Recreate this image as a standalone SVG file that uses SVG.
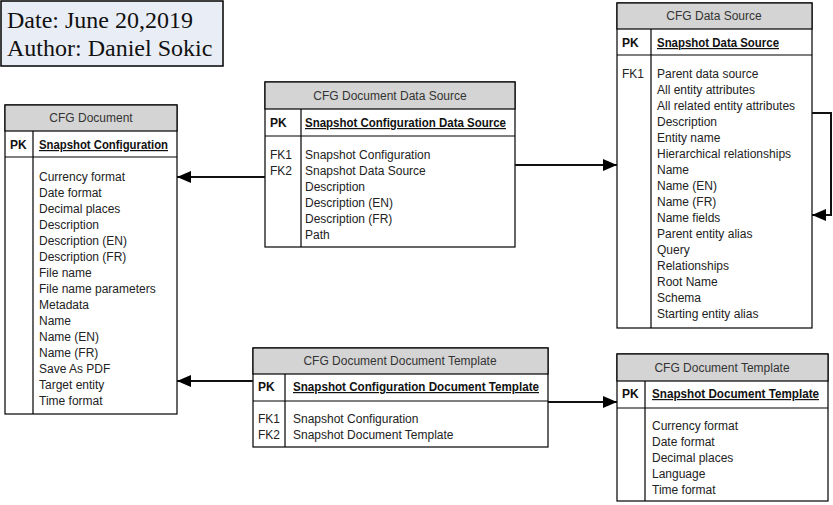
<svg xmlns="http://www.w3.org/2000/svg" width="833" height="505" viewBox="0 0 833 505">
<style>
.box{fill:#ffffff;stroke:#000;stroke-width:1.2}
.hdr{fill:#d4d4d4;stroke:#000;stroke-width:1.2}
.ln{stroke:#000;stroke-width:1.2;fill:none}
.t{font-family:"Liberation Sans",Arial,sans-serif;font-size:12px;fill:#222}
.h{font-family:"Liberation Sans",Arial,sans-serif;font-size:12px;fill:#333;text-anchor:middle}
.b{font-family:"Liberation Sans",Arial,sans-serif;font-size:12px;font-weight:bold;fill:#111}
.u{text-decoration:underline}
.conn{stroke:#111;stroke-width:2;fill:none}
.note{font-family:"Liberation Serif","Times New Roman",serif;font-size:24px;fill:#111}
</style>
<defs>
<marker id="arr" markerUnits="userSpaceOnUse" markerWidth="14" markerHeight="14" viewBox="0 0 14 14" refX="14" refY="7" orient="auto">
<path d="M0,1 L14,7 L0,13 Z" fill="#000"/>
</marker>
</defs>

<g id="note">
<rect x="1" y="1" width="222" height="65" fill="#e9edf5" stroke="#000" stroke-width="1.5"/>
<text class="note" x="7" y="28">Date: June 20,2019</text>
<text class="note" x="7" y="56">Author: Daniel Sokic</text>
</g>

<g id="cfg-document">
<rect class="box" x="5" y="105" width="172" height="309"/>
<rect class="hdr" x="5" y="105" width="172" height="26"/>
<line class="ln" x1="5" y1="157" x2="177" y2="157"/>
<line class="ln" x1="33" y1="131" x2="33" y2="414"/>
<text class="h" x="91" y="122">CFG Document</text>
<text class="b" x="10" y="149">PK</text>
<text class="b u" x="39" y="149" textLength="129" lengthAdjust="spacingAndGlyphs">Snapshot Configuration</text>
<text class="t" x="39" y="181">Currency format</text>
<text class="t" x="39" y="197">Date format</text>
<text class="t" x="39" y="213">Decimal places</text>
<text class="t" x="39" y="229">Description</text>
<text class="t" x="39" y="245">Description (EN)</text>
<text class="t" x="39" y="261">Description (FR)</text>
<text class="t" x="39" y="277">File name</text>
<text class="t" x="39" y="293">File name parameters</text>
<text class="t" x="39" y="309">Metadata</text>
<text class="t" x="39" y="325">Name</text>
<text class="t" x="39" y="341">Name (EN)</text>
<text class="t" x="39" y="357">Name (FR)</text>
<text class="t" x="39" y="373">Save As PDF</text>
<text class="t" x="39" y="389">Target entity</text>
<text class="t" x="39" y="405">Time format</text>
</g>

<g id="cfg-document-data-source">
<rect class="box" x="265" y="82" width="250" height="165"/>
<rect class="hdr" x="265" y="82" width="250" height="27"/>
<line class="ln" x1="265" y1="136" x2="515" y2="136"/>
<line class="ln" x1="301" y1="109" x2="301" y2="247"/>
<text class="h" x="390" y="100">CFG Document Data Source</text>
<text class="b" x="270" y="127">PK</text>
<text class="b u" x="305" y="127" textLength="201" lengthAdjust="spacingAndGlyphs">Snapshot Configuration Data Source</text>
<text class="t" x="270" y="159">FK1</text>
<text class="t" x="270" y="175">FK2</text>
<text class="t" x="305" y="159">Snapshot Configuration</text>
<text class="t" x="305" y="175">Snapshot Data Source</text>
<text class="t" x="305" y="191">Description</text>
<text class="t" x="305" y="207">Description (EN)</text>
<text class="t" x="305" y="223">Description (FR)</text>
<text class="t" x="305" y="239">Path</text>
</g>

<g id="cfg-data-source">
<rect class="box" x="617" y="3" width="195" height="325"/>
<rect class="hdr" x="617" y="3" width="195" height="26"/>
<line class="ln" x1="617" y1="55" x2="812" y2="55"/>
<line class="ln" x1="651" y1="29" x2="651" y2="328"/>
<text class="h" x="714" y="20">CFG Data Source</text>
<text class="b" x="622" y="47">PK</text>
<text class="b u" x="657" y="47" textLength="122" lengthAdjust="spacingAndGlyphs">Snapshot Data Source</text>
<text class="t" x="622" y="78">FK1</text>
<text class="t" x="657" y="78">Parent data source</text>
<text class="t" x="657" y="94">All entity attributes</text>
<text class="t" x="657" y="110">All related entity attributes</text>
<text class="t" x="657" y="126">Description</text>
<text class="t" x="657" y="142">Entity name</text>
<text class="t" x="657" y="158">Hierarchical relationships</text>
<text class="t" x="657" y="174">Name</text>
<text class="t" x="657" y="190">Name (EN)</text>
<text class="t" x="657" y="206">Name (FR)</text>
<text class="t" x="657" y="222">Name fields</text>
<text class="t" x="657" y="238">Parent entity alias</text>
<text class="t" x="657" y="254">Query</text>
<text class="t" x="657" y="270">Relationships</text>
<text class="t" x="657" y="286">Root Name</text>
<text class="t" x="657" y="302">Schema</text>
<text class="t" x="657" y="318">Starting entity alias</text>
</g>

<g id="cfg-document-document-template">
<rect class="box" x="253" y="348" width="295" height="99"/>
<rect class="hdr" x="253" y="348" width="295" height="26"/>
<line class="ln" x1="253" y1="401" x2="548" y2="401"/>
<line class="ln" x1="285" y1="374" x2="285" y2="447"/>
<text class="h" x="400" y="365">CFG Document Document Template</text>
<text class="b" x="258" y="391">PK</text>
<text class="b u" x="293" y="391" textLength="246" lengthAdjust="spacingAndGlyphs">Snapshot Configuration Document Template</text>
<text class="t" x="258" y="423">FK1</text>
<text class="t" x="258" y="439">FK2</text>
<text class="t" x="293" y="423">Snapshot Configuration</text>
<text class="t" x="293" y="439">Snapshot Document Template</text>
</g>

<g id="cfg-document-template">
<rect class="box" x="617" y="354" width="211" height="147"/>
<rect class="hdr" x="617" y="354" width="211" height="27"/>
<line class="ln" x1="617" y1="408" x2="828" y2="408"/>
<line class="ln" x1="645" y1="381" x2="645" y2="501"/>
<text class="h" x="722" y="372">CFG Document Template</text>
<text class="b" x="622" y="398">PK</text>
<text class="b u" x="652" y="398" textLength="167" lengthAdjust="spacingAndGlyphs">Snapshot Document Template</text>
<text class="t" x="652" y="430">Currency format</text>
<text class="t" x="652" y="446">Date format</text>
<text class="t" x="652" y="462">Decimal places</text>
<text class="t" x="652" y="478">Language</text>
<text class="t" x="652" y="494">Time format</text>
</g>

<g id="connectors">
<path class="conn" d="M265,177 H177" marker-end="url(#arr)"/>
<path class="conn" d="M515,165 H617" marker-end="url(#arr)"/>
<path class="conn" d="M812,113 H831 V215 H812" marker-end="url(#arr)"/>
<path class="conn" d="M253,381 H177" marker-end="url(#arr)"/>
<path class="conn" d="M548,402 H617" marker-end="url(#arr)"/>
</g>
</svg>
